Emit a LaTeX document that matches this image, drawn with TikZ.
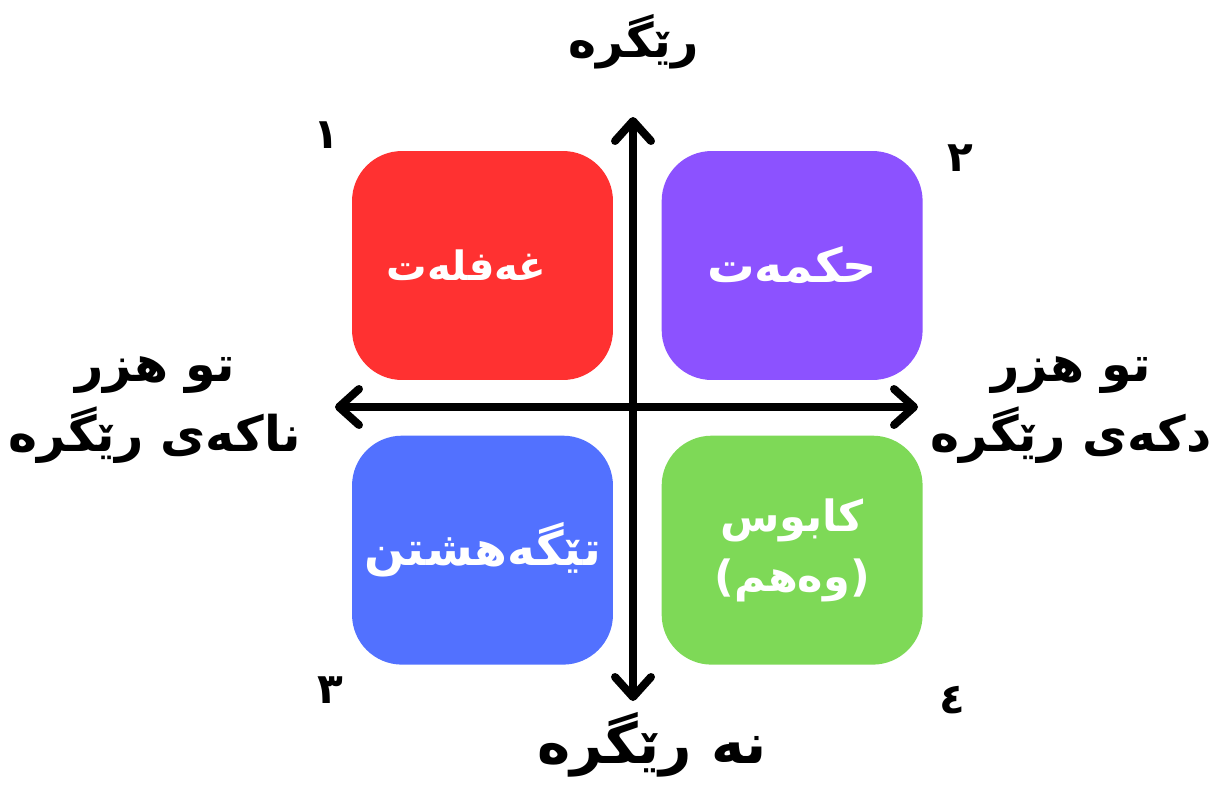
\documentclass[tikz,border=0pt]{standalone}
\usepackage{fontspec}
\usepackage{xcolor}
\newfontfamily\arabicfont[Script=Arabic]{DejaVu Sans}
\TeXXeTstate=1
\usetikzlibrary{arrows.meta,positioning}
\definecolor{ghaflatred}{HTML}{FF3131}
\definecolor{hikmatpurple}{HTML}{8C52FF}
\definecolor{tegayshtinblue}{HTML}{5271FF}
\definecolor{kabusgreen}{HTML}{7ED957}

\begin{document}
\begin{tikzpicture}[
        x=0.02cm,y=-0.02cm,
        font=\arabicfont\bfseries,
        >={Straight Barb[length=0.4cm,width=0.72cm,round]},
        node distance=1.1cm and 0.96cm,
        box/.style={rectangle,rounded corners=1cm,minimum width=5.22cm,minimum height=4.58cm,align=center,text=white,font=\arabicfont\bfseries\fontsize{27}{34}\selectfont},
        axislabel/.style={align=center,font=\arabicfont\bfseries\fontsize{28}{40}\selectfont},
        numlabel/.style={font=\arabicfont\bfseries\fontsize{24}{28}\selectfont},
        axis/.style={<->,line width=0.16cm,line cap=round}
    ]
        \useasboundingbox (0,0) rectangle (1227,785);

        \node[box,fill=ghaflatred] (ghaflat) at (482.5,265.5) {\hspace*{-0.64cm}\fontsize{23}{34}\selectfont\beginR غەفلەت\endR};
        \node[box,fill=hikmatpurple,right=of ghaflat] (hikmat) {\beginR حکمەت\endR};
        \node[box,fill=tegayshtinblue,below=of ghaflat] (tegayshtin) {\beginR تێگەهشتن\endR};
        \node[box,fill=kabusgreen,below=of hikmat,font=\arabicfont\bfseries\fontsize{24.5}{34}\selectfont] (kabus) {\beginR کابوس\endR\\\beginR (وەهم)\endR};

        \coordinate (axistop) at (633,117);
        \coordinate (axisbottom) at (633,701);
        \coordinate (axisleft) at (335,407);
        \coordinate (axisright) at (918,407);
        \draw[axis] (axisbottom) -- (axistop);
        \draw[axis] (axisleft) -- (axisright);

        \node[axislabel,font=\arabicfont\bfseries\fontsize{27}{38}\selectfont] (rule) at (634,42) {\beginR رێگرە\endR};
        \node[axislabel,font=\arabicfont\bfseries\fontsize{32}{38}\selectfont] (norule) at (652,745) {\beginR نە رێگرە\endR};
        \node[axislabel] (nothink) at (155,410) {\beginR تو هزر\endR\\\beginR ناکەی رێگرە\endR};
        \node[axislabel] (think) at (1071,410) {\beginR تو هزر\endR\\\beginR دکەی رێگرە\endR};

        \node[numlabel] (one) at (326,135) {١};
        \node[numlabel] (two) at (960,158) {٢};
        \node[numlabel] (three) at (330,690) {٣};
        \node[numlabel] (four) at (952,700) {٤};
    \end{tikzpicture}
\end{document}
